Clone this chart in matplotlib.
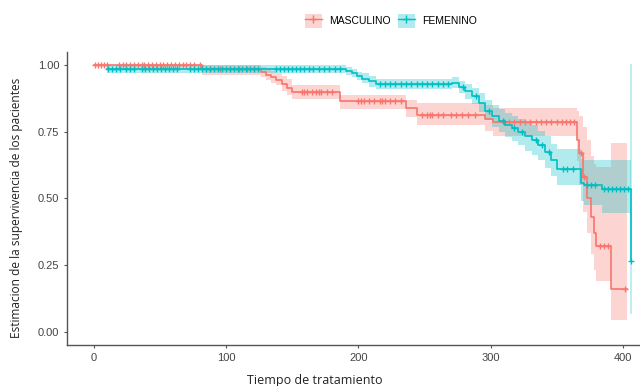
import numpy as np
import matplotlib
matplotlib.use("Agg")
import matplotlib.pyplot as plt
from matplotlib.patches import Patch
from matplotlib.lines import Line2D

red = '#F8766D'
teal = '#00BFC4'

groups = ['MASCULINO', 'FEMENINO']

# MASCULINO: step times, survival, confidence band
masc_t = [0, 82, 126, 130, 134, 138, 142, 146, 150, 186, 236, 244, 296, 302,
          365, 367, 370, 373, 376, 378, 380, 391, 403]
masc_s = [1.0, 0.985, 0.975, 0.965, 0.955, 0.945, 0.93, 0.915, 0.90, 0.865, 0.84, 0.815, 0.80, 0.786,
          0.72, 0.67, 0.58, 0.50, 0.43, 0.37, 0.32, 0.16, 0.16]
masc_lo = [1.0, 0.965, 0.955, 0.945, 0.935, 0.925, 0.905, 0.89, 0.875, 0.835, 0.805, 0.775, 0.755, 0.735,
           0.64, 0.55, 0.45, 0.37, 0.29, 0.23, 0.19, 0.045, 0.045]
masc_hi = [1.0, 1.0, 0.995, 0.99, 0.98, 0.97, 0.96, 0.95, 0.925, 0.89, 0.87, 0.86, 0.85, 0.84,
           0.83, 0.81, 0.77, 0.72, 0.66, 0.63, 0.62, 0.71, 0.71]
masc_cens = [1, 3, 5, 8, 10, 19, 22, 24, 27, 30, 33, 36, 38, 41, 44, 47, 50, 52, 55, 58, 61, 64,
             67, 70, 73, 76, 80, 88, 95, 103, 110, 116, 121,
             157, 159, 161, 165, 168, 170, 172, 176, 180,
             200, 202, 204, 208, 212, 216, 218, 220, 224, 228, 232,
             248, 252, 254, 256, 260, 264, 270, 274, 278, 283, 288,
             310, 314, 318, 322, 326, 330, 334, 338, 342, 346, 350, 354, 357, 360, 363,
             368, 371, 383, 386, 389, 402]

# FEMENINO
fem_t = [10, 191, 195, 199, 203, 208, 213, 271, 276, 281, 286, 291, 296, 301, 306, 311, 316,
         321, 326, 331, 336, 341, 346, 350, 368, 371, 384, 406]
fem_s = [0.985, 0.98, 0.97, 0.96, 0.95, 0.94, 0.93, 0.935, 0.92, 0.905, 0.885, 0.86, 0.83, 0.81,
         0.79, 0.775, 0.765, 0.75, 0.735, 0.72, 0.70, 0.675, 0.645, 0.61, 0.56, 0.55, 0.535, 0.265]
fem_lo = [0.97, 0.965, 0.955, 0.945, 0.935, 0.92, 0.91, 0.915, 0.895, 0.875, 0.855, 0.825, 0.795, 0.77,
          0.75, 0.73, 0.715, 0.70, 0.68, 0.665, 0.645, 0.615, 0.585, 0.55, 0.49, 0.475, 0.445, 0.07]
fem_hi = [1.0, 0.995, 0.985, 0.975, 0.97, 0.96, 0.95, 0.955, 0.94, 0.93, 0.915, 0.895, 0.87,
          0.85, 0.835, 0.82, 0.81, 0.80, 0.785, 0.775, 0.755, 0.735, 0.705, 0.685, 0.65, 0.645, 0.645, 1.0]
fem_cens = [11, 14, 17, 20, 24, 27, 30, 36, 39, 42, 45, 48, 51, 54, 57, 60, 63, 73, 76, 79, 82,
            85, 88, 91, 94, 97, 100, 103, 106, 109, 112, 115, 118, 121, 124,
            138, 141, 144, 147, 150, 153, 156, 159, 163, 166, 170, 174, 178, 182, 186,
            216, 220, 224, 228, 232, 236, 240, 244, 248, 252, 256, 260, 264, 268,
            279, 289, 299, 309, 318, 324, 334, 339, 344, 355, 358, 362,
            373, 376, 379, 386, 389, 392, 395, 398, 401, 404, 406]

xticks = [0, 100, 200, 300, 400]
yticks = [0.0, 0.25, 0.50, 0.75, 1.0]


def surv_at(times, surv, t):
    idx = np.searchsorted(times, t, side='right') - 1
    return np.asarray(surv)[np.clip(idx, 0, len(surv) - 1)]


fig = plt.figure(figsize=(6.4, 3.86), dpi=100)
ax = fig.add_axes([67 / 640, 41 / 386, 592 / 640, 293 / 386])

series = [(masc_t, masc_s, masc_lo, masc_hi, masc_cens, red),
          (fem_t, fem_s, fem_lo, fem_hi, fem_cens, teal)]

for t, s, lo, hi, cens, col in series:
    ax.fill_between(t, lo, hi, step='post', color=col, alpha=0.3, lw=0)
# teal last step has zero width, the band shows as a thin line
ax.plot([fem_t[-1], fem_t[-1]], [fem_lo[-1], fem_hi[-1]], color=teal, alpha=0.3, lw=1.2)

for t, s, lo, hi, cens, col in series:
    ax.step(t, s, where='post', color=col, lw=1.2)
    ax.plot(cens, surv_at(t, s, cens), ls='none', marker='+', ms=5, mew=1.0, color=col)

ax.set_xlim(-20.35, 427.35)
ax.set_ylim(-0.05, 1.05)
ax.set_xticks(xticks)
ax.set_xticklabels([str(v) for v in xticks])
ax.set_yticks(yticks)
ax.set_yticklabels(['%.2f' % v for v in yticks])
for sp in ['top', 'right']:
    ax.spines[sp].set_visible(False)
for sp in ['left', 'bottom']:
    ax.spines[sp].set_color('#555555')
    ax.spines[sp].set_linewidth(1.0)
ax.tick_params(direction='out', length=2.5, width=0.8, color='#555555',
               labelsize=8, labelcolor='#444444', pad=3)
for lab in ax.get_xticklabels() + ax.get_yticklabels():
    lab.set_family('Liberation Sans')

fig.text(315 / 640, 2 / 386, 'Tiempo de tratamiento', ha='center', va='baseline',
         fontsize=9, family='Open Sans', color='#222222')
fig.text(17 / 640, 1 - 208 / 386, 'Estimacion de la supervivencia de los pacientes',
         rotation=90, ha='center', va='center', fontsize=8.6, family='Open Sans', color='#222222')

handles = [(Patch(fc=red, alpha=0.3, lw=0), Line2D([], [], color=red, marker='+', ms=6, lw=1)),
           (Patch(fc=teal, alpha=0.3, lw=0), Line2D([], [], color=teal, marker='+', ms=6, lw=1))]
fig.legend(handles, groups, loc='center', bbox_to_anchor=(391 / 640, 1 - 21 / 386), ncol=2,
           frameon=False, handlelength=1.6, handleheight=1.7, handletextpad=0.7,
           columnspacing=0.7, prop={'family': 'Liberation Sans', 'size': 7.5})

fig.savefig('out.png', dpi=100)
